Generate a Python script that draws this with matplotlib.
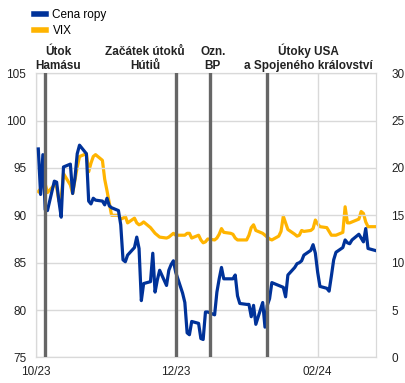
import pandas as pd
import matplotlib
matplotlib.use("Agg")
from matplotlib import pyplot as plt
import matplotlib.dates as mdates
from matplotlib.lines import Line2D

plt.rcParams['font.family'] = ['Liberation Sans', 'DejaVu Sans']

# business days, 2 Oct 2023 - 26 Feb 2024
dates = pd.bdate_range('2023-10-02', '2024-02-26')

oil = [97.0, 92.2, 96.4, 90.6, 90.5, 93.6, 93.5, 91.5, 89.8, 95.1,
       95.4, 92.3, 93.9, 96.5, 97.4, 96.5, 91.5, 91.2, 91.8, 91.6,
       91.5, 91.1,
       91.8, 91.0, 90.8, 90.5, 89.0, 85.3, 85.1, 85.8, 86.6, 87.7,
       86.5, 81.0, 82.8, 83.0, 86.0, 81.9, 83.2, 84.2, 82.6, 84.2,
       84.8, 85.2,
       84.0, 81.8, 80.8, 77.6, 77.4, 78.8, 78.6, 77.0, 76.9, 79.8,
       79.8, 79.5, 81.9, 83.3, 84.5, 83.3, 83.3, 83.3, 83.7, 81.5,
       80.7,
       80.6, 80.6, 79.3, 80.5, 78.5, 80.8, 78.2, 80.5, 81.2, 82.9,
       82.6, 82.5, 82.4, 81.4, 83.7, 84.5, 84.9, 85.0, 85.2, 85.8,
       86.3, 86.9, 86.0,
       84.0, 82.5, 82.3, 82.0, 83.6, 85.3, 86.1, 86.6, 87.4, 87.1,
       87.0, 87.4, 88.0, 87.6, 87.2, 88.6, 86.5, 86.3]

vix = [17.5, 17.8, 19.7, 18.3, 17.4, 18.2, 18.0, 16.5, 16.8, 19.4,
       18.2, 17.3, 18.7, 20.1, 21.2, 21.5, 19.6, 20.5, 21.2, 21.4,
       20.8, 18.8,
       17.6, 16.3, 15.0, 15.0, 14.6, 14.7, 14.9, 14.2, 14.7, 14.2,
       14.0, 14.1, 14.3, 13.7, 13.4, 13.1, 12.9, 12.7, 12.6, 12.7,
       12.9, 13.1,
       12.9, 12.9, 12.9, 13.1, 13.1, 12.6, 12.9, 12.4, 12.1, 12.2,
       12.5, 12.4, 12.6, 13.0, 13.6, 13.2, 13.1, 13.0, 12.6, 12.4,
       12.4,
       12.4, 12.9, 13.7, 14.0, 13.4, 13.1, 12.9, 12.7, 12.5, 12.4,
       12.8, 13.3, 14.9, 14.2, 13.5, 13.0, 12.8, 12.9, 13.4, 13.3,
       13.4, 13.6, 14.5,
       14.1, 13.8, 13.7, 13.3, 12.9, 12.9, 12.9, 13.2, 15.9, 14.2,
       14.2, 14.3, 14.6, 15.4, 15.2, 14.3, 13.8, 13.8]

event_dates = pd.to_datetime(['2023-10-05', '2023-12-01', '2023-12-16', '2024-01-10'])
event_labels = ['Útok\nHamásu', 'Začátek útoků\nHútiů', 'Ozn.\nBP',
                'Útoky USA\na Spojeného království']
label_pos = [0.065, 0.32, 0.52, 0.80]

blue = '#003299'
yellow = '#ffb400'
grid_c = '#d9d9d9'

fig = plt.figure(figsize=(4.06, 3.83), dpi=100)
ax = fig.add_axes([0.0887, 0.0666, 0.8375, 0.7425])
ax2 = ax.twinx()

ax.plot(dates, oil, color=blue, lw=2.3, zorder=3)
ax2.plot(dates, vix, color=yellow, lw=2.3, zorder=3)

for d in event_dates:
    ax.axvline(d, color='#666666', lw=2.4, zorder=4)

ax.set_xlim(pd.Timestamp('2023-10-01'), pd.Timestamp('2024-02-26 12:00'))
ax.set_ylim(75, 105)
ax2.set_ylim(0, 30)
ax.set_yticks(range(75, 106, 5))
ax2.set_yticks(range(0, 31, 5))

ax.xaxis.set_major_locator(mdates.MonthLocator(bymonth=[2, 10, 12]))
ax.xaxis.set_major_formatter(mdates.DateFormatter('%m/%y'))

ax.grid(True, color=grid_c, lw=1)
ax.set_axisbelow(True)
for a in (ax, ax2):
    for s in a.spines.values():
        s.set_color(grid_c)
    a.tick_params(length=0, labelsize=8.5, colors='#222222')
ax.tick_params(axis='y', pad=7)
ax2.tick_params(axis='y', pad=11)
ax.tick_params(axis='x', pad=6)
ax.set_zorder(ax2.get_zorder() + 1)
ax.patch.set_visible(False)

for txt, xp in zip(event_labels, label_pos):
    ax.text(xp, 1.005, txt, transform=ax.transAxes, ha='center', va='bottom',
            fontsize=8.5, fontweight='bold', linespacing=1.15, color='#222222')

handles = [Line2D([0], [0], color=blue, lw=4),
           Line2D([0], [0], color=yellow, lw=4)]
fig.legend(handles, ['Cena ropy', 'VIX'], loc='upper left',
           bbox_to_anchor=(0.058, 1.005), frameon=False, fontsize=8.5,
           handlelength=1.0, handletextpad=0.55, labelspacing=0.35)

plt.savefig('out.png', dpi=100)
